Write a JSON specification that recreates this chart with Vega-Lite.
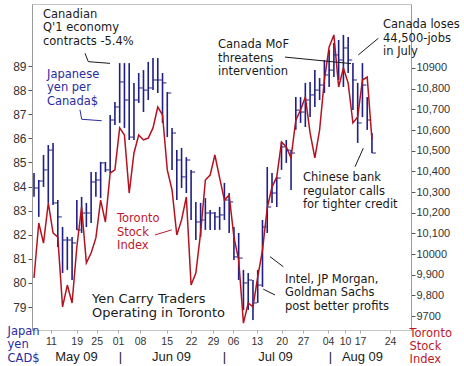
{
"$schema": "https://vega.github.io/schema/vega-lite/v6.json",
"width": 379, "height": 326,
"autosize": {"type": "none"},
"padding": {"left": 32, "top": 4, "right": 53, "bottom": 36},
"background": "white",
"config": {"view": {"stroke": "#c4c4c4"}, "font": "DejaVu Sans"},
"datasets": {
"bars": [
{"d":0,"h":84.56,"l":83.57,"c":83.94},{"d":1,"h":84.27,"l":82.74,"c":84.23},{"d":2,"h":85.31,"l":83.98,"c":84.69},{"d":3,"h":85.72,"l":83.32,"c":85.51},{"d":4,"h":85.81,"l":83.23,"c":83.32},{"d":5,"h":83.44,"l":81.49,"c":82.74},{"d":6,"h":82.32,"l":80.41,"c":81.78},{"d":7,"h":81.91,"l":80.54,"c":81.78},{"d":8,"h":81.91,"l":80.12,"c":81.66},{"d":9,"h":83.44,"l":82.2,"c":82.2},
{"d":10,"h":83.57,"l":82.07,"c":82.9},{"d":11,"h":83.32,"l":82.32,"c":82.9},{"d":12,"h":84.6,"l":82.49,"c":84.19},{"d":13,"h":84.6,"l":83.57,"c":84.27},{"d":14,"h":85.02,"l":83.52,"c":84.98},{"d":15,"h":85.02,"l":84.6,"c":84.69},{"d":16,"h":86.97,"l":84.56,"c":86.76},{"d":17,"h":87.51,"l":86.55,"c":87.3},{"d":18,"h":89.12,"l":86.64,"c":88.34},{"d":19,"h":89.12,"l":86.43,"c":87.59},
{"d":20,"h":89.12,"l":85.93,"c":86.05},{"d":21,"h":88.3,"l":85.93,"c":87.59},{"d":22,"h":88.71,"l":87.47,"c":88.09},{"d":23,"h":88.83,"l":87.09,"c":88.0},{"d":24,"h":89.17,"l":87.59,"c":88.09},{"d":25,"h":89.33,"l":88.0,"c":88.42},{"d":26,"h":89.33,"l":87.88,"c":88.42},{"d":27,"h":88.71,"l":86.64,"c":88.3},{"d":28,"h":87.92,"l":86.05,"c":87.88},{"d":29,"h":86.43,"l":84.69,"c":86.22},
{"d":30,"h":85.51,"l":83.44,"c":85.1},{"d":31,"h":85.6,"l":83.94,"c":84.4},{"d":32,"h":85.22,"l":83.73,"c":85.1},{"d":33,"h":84.69,"l":82.61,"c":84.6},{"d":34,"h":83.36,"l":81.78,"c":82.53},{"d":35,"h":83.32,"l":81.91,"c":82.61},{"d":36,"h":83.52,"l":82.2,"c":82.9},{"d":37,"h":83.03,"l":82.2,"c":82.9},{"d":38,"h":82.94,"l":82.2,"c":82.74},{"d":39,"h":83.15,"l":82.2,"c":82.82},
{"d":40,"h":84.15,"l":82.61,"c":83.44},{"d":41,"h":83.73,"l":82.07,"c":83.36},{"d":42,"h":82.32,"l":80.95,"c":81.08},{"d":43,"h":82.07,"l":80.12,"c":81.03},{"d":44,"h":80.54,"l":78.88,"c":80.0},{"d":45,"h":80.41,"l":78.88,"c":80.12},{"d":46,"h":80.12,"l":78.46,"c":79.17},{"d":47,"h":80.54,"l":79.17,"c":79.91},{"d":48,"h":82.61,"l":79.83,"c":82.32},{"d":49,"h":84.81,"l":82.07,"c":83.15},
{"d":50,"h":84.56,"l":83.32,"c":83.73},{"d":51,"h":84.4,"l":83.15,"c":84.35},{"d":52,"h":85.85,"l":84.69,"c":85.64},{"d":53,"h":85.93,"l":84.98,"c":85.51},{"d":54,"h":85.51,"l":83.86,"c":85.39},{"d":55,"h":87.71,"l":86.35,"c":87.17},{"d":56,"h":87.71,"l":86.64,"c":87.09},{"d":57,"h":88.3,"l":86.47,"c":87.59},{"d":58,"h":88.34,"l":86.88,"c":87.8},{"d":59,"h":88.83,"l":87.3,"c":88.0},
{"d":60,"h":88.5,"l":87.59,"c":88.21},{"d":61,"h":89.25,"l":87.88,"c":88.63},{"d":62,"h":89.66,"l":88.13,"c":88.83},{"d":63,"h":89.95,"l":88.54,"c":89.46},{"d":64,"h":90.08,"l":88.42,"c":89.25},{"d":65,"h":90.29,"l":88.13,"c":89.75},{"d":66,"h":90.2,"l":88.71,"c":89.25},{"d":67,"h":89.12,"l":87.17,"c":88.42},{"d":68,"h":88.3,"l":85.81,"c":86.64},{"d":69,"h":89.12,"l":86.88,"c":88.21},
{"d":70,"h":87.71,"l":86.35,"c":86.76},{"d":71,"h":86.22,"l":85.39,"c":85.39}
],
"tsx": [
{"d":0,"v":9884},{"d":1,"v":10150},{"d":2,"v":10053},{"d":3,"v":10247},{"d":4,"v":10102},{"d":5,"v":10082},{"d":6,"v":9744},{"d":7,"v":9850},{"d":8,"v":9763},{"d":9,"v":10034},
{"d":10,"v":10228},{"d":11,"v":9957},{"d":12,"v":10005},{"d":13,"v":10078},{"d":14,"v":10261},{"d":15,"v":10155},{"d":16,"v":10392},{"d":17,"v":10407},{"d":18,"v":10610},{"d":19,"v":10576},
{"d":20,"v":10295},{"d":21,"v":10489},{"d":22,"v":10576},{"d":23,"v":10552},{"d":24,"v":10561},{"d":25,"v":10610},{"d":26,"v":10711},{"d":27,"v":10673},{"d":28,"v":10407},{"d":29,"v":10310},
{"d":30,"v":10092},{"d":31,"v":10165},{"d":32,"v":10276},{"d":33,"v":9850},{"d":34,"v":9908},{"d":35,"v":10102},{"d":36,"v":10358},{"d":37,"v":10382},{"d":38,"v":10479},{"d":39,"v":10368},
{"d":40,"v":10261},{"d":41,"v":10286},{"d":42,"v":10082},{"d":43,"v":9971},{"d":44,"v":9666},{"d":45,"v":9763},{"d":46,"v":9744},{"d":47,"v":9889},{"d":48,"v":10019},{"d":49,"v":10223},
{"d":50,"v":10324},{"d":51,"v":10373},{"d":52,"v":10542},{"d":53,"v":10518},{"d":54,"v":10465},{"d":55,"v":10648},{"d":56,"v":10697},{"d":57,"v":10760},{"d":58,"v":10586},{"d":59,"v":10465},
{"d":60,"v":10600},{"d":61,"v":10842},{"d":62,"v":11002},{"d":63,"v":11060},{"d":64,"v":10808},{"d":65,"v":10900},{"d":66,"v":10827},{"d":67,"v":10634},{"d":68,"v":10663},{"d":69,"v":10842},
{"d":70,"v":10856},{"d":71,"v":10552}
],
"notes": [
{"kind":"note","d":1.89,"v":91.37,"label":"Canadian\nQ'1 economy\ncontracts -5.4%"},
{"kind":"yen","d":2.73,"v":88.88,"label":"Japanese\nyen per\nCanada$"},
{"kind":"note","d":38.66,"v":90.12,"label":"Canada MoF\nthreatens\nintervention"},
{"kind":"note","d":73.32,"v":90.95,"label":"Canada loses\n44,500-jobs\nin July"},
{"kind":"note","d":56.51,"v":84.6,"label":"Chinese bank\nregulator calls\nfor tighter credit"},
{"kind":"note","d":52.73,"v":80.37,"label":"Intel, JP Morgan,\nGoldman Sachs\npost better profits"},
{"kind":"tsx","d":17.44,"v":82.9,"label":"Toronto\nStock\nIndex"},
{"kind":"headline","d":12.18,"v":79.58,"label":"Yen Carry Traders\nOperating in Toronto"}
],
"leaders": [
{"id":"L1","kind":"note","o":0,"d":10.71,"v":89.53},{"id":"L1","kind":"note","o":1,"d":11.41,"v":89.18},{"id":"L1","kind":"note","o":2,"d":15.97,"v":89.11},
{"id":"L2","kind":"yen","o":0,"d":9.66,"v":87.18},{"id":"L2","kind":"yen","o":1,"d":10.02,"v":86.79},{"id":"L2","kind":"yen","o":2,"d":14.22,"v":86.73},
{"id":"L3","kind":"note","o":0,"d":52.73,"v":89.37},{"id":"L3","kind":"note","o":1,"d":66.6,"v":89.1},
{"id":"L4","kind":"note","o":0,"d":72.33,"v":90.15},{"id":"L4","kind":"note","o":1,"d":68.13,"v":89.46},
{"id":"L5","kind":"note","o":0,"d":69.18,"v":85.59},{"id":"L5","kind":"note","o":1,"d":67.44,"v":84.82},
{"id":"L6","kind":"note","o":0,"d":49.58,"v":81.09},{"id":"L6","kind":"note","o":1,"d":52.38,"v":80.67},
{"id":"L7","kind":"note","o":0,"d":48.17,"v":79.74},{"id":"L7","kind":"note","o":1,"d":50.63,"v":79.5},
{"id":"L8","kind":"tsx","o":0,"d":25.42,"v":81.99},{"id":"L8","kind":"tsx","o":1,"d":28.93,"v":82.2}
]
},
"layer": [
{
"data": {"name": "bars"},
"mark": {"type": "rule", "color": "#1f1f85", "strokeWidth": 1.6},
"encoding": {
"x": {"field": "d", "type": "quantitative", "scale": {"domain": [-0.42, 79.2], "nice": false, "zero": false},
 "axis": {"orient": "bottom", "title": null, "grid": false, "domain": false, "ticks": true, "tickSize": 3, "tickColor": "#aaa",
  "values": [3.57,8.97,13.17,17.65,22.27,27.88,32.98,37.61,41.81,46.79,52.04,56.51,61.76,65.34,68.49,74.79],
  "labelExpr": "['11','19','25','01','08','15','22','29','06','13','20','27','04','10','17','24'][indexof([3.57,8.97,13.17,17.65,22.27,27.88,32.98,37.61,41.81,46.79,52.04,56.51,61.76,65.34,68.49,74.79], datum.value)]",
  "labelFont": "Liberation Sans", "labelFontSize": 10.5, "labelColor": "#333", "labelPadding": 3, "labelFlush": false, "labelOverlap": false}},
"y": {"field": "h", "type": "quantitative", "scale": {"domain": [78.046, 91.573], "nice": false, "zero": false},
 "axis": {"orient": "left", "grid": false, "values": [79,80,81,82,83,84,85,86,87,88,89], "domain": true, "domainColor": "#999", "ticks": true, "tickSize": 4, "tickColor": "#555",
  "labelFont": "Liberation Sans", "labelFontSize": 12, "labelColor": "#333", "labelPadding": 2,
  "title": ["Japan","yen","CAD$"], "titleAngle": 0, "titleAlign": "left", "titleBaseline": "top", "titleX": -25, "titleY": 321,
  "titleFont": "DejaVu Sans", "titleFontSize": 11.5, "titleFontWeight": "normal", "titleColor": "#2b2ba0", "titleLineHeight": 13.5}},
"y2": {"field": "l"}
}
},
{
"data": {"name": "bars"},
"mark": {"type": "tick", "orient": "horizontal", "color": "#1f1f85", "size": 4, "thickness": 1.4, "xOffset": 2},
"encoding": {
"x": {"field": "d", "type": "quantitative", "scale": {"domain": [-0.42, 79.2], "nice": false, "zero": false}, "axis": null},
"y": {"field": "c", "type": "quantitative", "scale": {"domain": [78.046, 91.573], "nice": false, "zero": false}, "axis": null}
}
},
{
"data": {"name": "tsx"},
"mark": {"type": "line", "color": "#b3121f", "strokeWidth": 1.5},
"encoding": {
"x": {"field": "d", "type": "quantitative", "scale": {"domain": [-0.42, 79.2], "nice": false, "zero": false},
 "axis": {"orient": "bottom", "title": null, "grid": false, "domain": false, "ticks": false, "tickSize": 0,
  "values": [8.82,18.07,28.78,39.92,50.63,62.18,68.9],
  "labelExpr": "['May 09','|','Jun 09','|','Jul 09','|','Aug 09'][indexof([8.82,18.07,28.78,39.92,50.63,62.18,68.9], datum.value)]",
  "labelFont": "Liberation Sans", "labelFontSize": 13, "labelColor": "#222", "labelPadding": 20, "labelFlush": false, "labelOverlap": false}},
"y": {"field": "v", "type": "quantitative", "scale": {"domain": [9632.5, 11209.6], "nice": false, "zero": false},
 "axis": {"orient": "right", "grid": false, "values": [9700,9800,9900,10000,10100,10200,10300,10400,10500,10600,10700,10800,10900], "domain": true, "domainColor": "#999", "ticks": true, "tickSize": 4, "tickColor": "#555",
  "labelFont": "Liberation Sans", "labelFontSize": 11, "labelColor": "#333", "labelPadding": 1,
  "labelExpr": "datum.value == 10900 ? '10900' : datum.value == 10000 ? '10000' : datum.value == 9700 ? '9700' : format(datum.value, ',')",
  "title": ["Toronto","Stock","Index"], "titleAngle": 0, "titleAlign": "left", "titleBaseline": "top", "titleX": -2, "titleY": 323,
  "titleFont": "DejaVu Sans", "titleFontSize": 11.5, "titleFontWeight": "normal", "titleColor": "#c0182a", "titleLineHeight": 13}}
}
},
{
"data": {"name": "leaders"},
"mark": {"type": "line", "strokeWidth": 1},
"encoding": {
"x": {"field": "d", "type": "quantitative", "scale": {"domain": [-0.42, 79.2], "nice": false, "zero": false}, "axis": null},
"y": {"field": "v", "type": "quantitative", "scale": {"domain": [78.046, 91.573], "nice": false, "zero": false}, "axis": null},
"detail": {"field": "id"},
"order": {"field": "o"},
"color": {"field": "kind", "type": "nominal", "scale": {"domain": ["note","yen","tsx","headline"], "range": ["#1a1a1a","#2b2ba0","#c0182a","#1a1a1a"]}, "legend": null}
}
},
{
"data": {"name": "notes"},
"transform": [{"filter": "datum.kind != 'headline'"}],
"mark": {"type": "text", "align": "left", "baseline": "top", "font": "DejaVu Sans", "fontSize": 11.5, "lineHeight": 13.5, "lineBreak": "\n"},
"encoding": {
"x": {"field": "d", "type": "quantitative", "scale": {"domain": [-0.42, 79.2], "nice": false, "zero": false}, "axis": null},
"y": {"field": "v", "type": "quantitative", "scale": {"domain": [78.046, 91.573], "nice": false, "zero": false}, "axis": null},
"text": {"field": "label", "type": "nominal"},
"color": {"field": "kind", "type": "nominal", "scale": {"domain": ["note","yen","tsx","headline"], "range": ["#1a1a1a","#2b2ba0","#c0182a","#1a1a1a"]}, "legend": null}
}
},
{
"data": {"name": "notes"},
"transform": [{"filter": "datum.kind == 'headline'"}],
"mark": {"type": "text", "align": "left", "baseline": "top", "font": "DejaVu Sans", "fontSize": 13, "lineHeight": 14, "lineBreak": "\n", "color": "#1a1a1a"},
"encoding": {
"x": {"field": "d", "type": "quantitative", "scale": {"domain": [-0.42, 79.2], "nice": false, "zero": false}, "axis": null},
"y": {"field": "v", "type": "quantitative", "scale": {"domain": [78.046, 91.573], "nice": false, "zero": false}, "axis": null},
"text": {"field": "label", "type": "nominal"}
}
}
],
"resolve": {"scale": {"y": "independent"}, "axis": {"x": "independent"}}
}
